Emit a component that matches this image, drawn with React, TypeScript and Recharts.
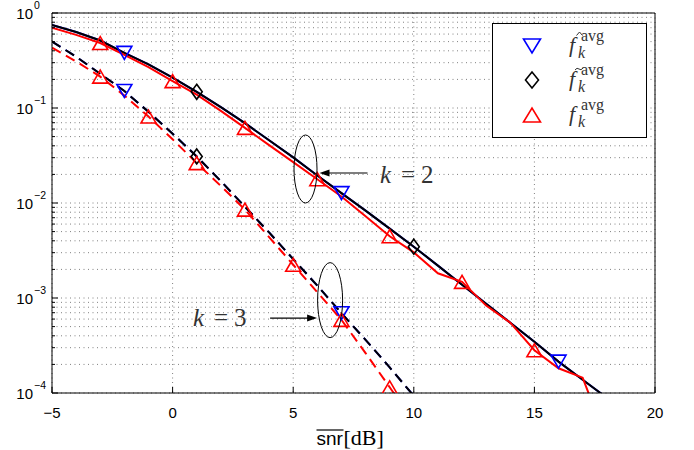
import React from "react";
import {
  ComposedChart,
  Line,
  XAxis,
  YAxis,
  CartesianGrid,
  ReferenceDot,
  Label,
} from "recharts";

// snr in dB, one sample per dB
const SNR_DB = [-5, -4, -3, -2, -1, 0, 1, 2, 3, 4, 5, 6, 7, 8, 9, 10, 11, 12, 13, 14, 15, 16, 17, 18];

// k = 2 (solid)
const F_HAT_K2 = [
  0.748, 0.631, 0.513, 0.38, 0.288, 0.209, 0.148, 0.102, 0.0692, 0.0457, 0.0302, 0.0195,
  0.0127, 0.00832, 0.00537, 0.00347, 0.00219, 0.00138, 0.000871, 0.00055, 0.000347, 0.000214, 0.000138, 0.0000891,
];
const F_TILDE_K2 = [
  0.748, 0.631, 0.513, 0.38, 0.288, 0.209, 0.148, 0.102, 0.0692, 0.0457, 0.0302, 0.0195,
  0.0127, 0.00832, 0.00537, 0.00347, 0.00219, 0.00138, 0.000871, 0.00055, 0.000347, 0.000214, 0.000138, 0.0000891,
];
const F_K2 = [
  0.7, 0.589, 0.483, 0.363, 0.269, 0.192, 0.138, 0.0933, 0.0617, 0.0407, 0.0269, 0.0178,
  0.0117, 0.00724, 0.00447, 0.00302, 0.00182, 0.00148, 0.000832, 0.00055, 0.000282, 0.000182, 0.000145, 0.0000316,
];

// k = 3 (dashed)
const F_HAT_K3 = [
  0.501, 0.347, 0.229, 0.151, 0.0912, 0.0537, 0.0309, 0.017, 0.00912, 0.0049, 0.00257, 0.00135,
  0.000692, 0.000363, 0.000186, 0.0000933,
];
const F_TILDE_K3 = [
  0.501, 0.347, 0.229, 0.151, 0.0912, 0.0537, 0.0309, 0.017, 0.00912, 0.0049, 0.00257, 0.00135,
  0.000692, 0.000363, 0.000186, 0.0000933,
];
const F_K3 = [
  0.432, 0.309, 0.214, 0.135, 0.0813, 0.0468, 0.0263, 0.0151, 0.00851, 0.00437, 0.00224, 0.00115,
  0.000589, 0.000263, 0.000115, 0.0000501,
];

// where the markers sit
const HAT_MARKS_K2 = [-2, 7, 16];
const TILDE_MARKS_K2 = [1, 10];
const F_MARKS_K2 = [-3, 0, 3, 6, 9, 12, 15];
const HAT_MARKS_K3 = [-2, 7];
const TILDE_MARKS_K3 = [1];
const F_MARKS_K3 = [-3, -1, 1, 3, 5, 7, 9];

const X_TICKS = [-5, 0, 5, 10, 15, 20];
const Y_TICKS = [
  1e-4, 2e-4, 3e-4, 4e-4, 5e-4, 6e-4, 7e-4, 8e-4, 9e-4,
  1e-3, 2e-3, 3e-3, 4e-3, 5e-3, 6e-3, 7e-3, 8e-3, 9e-3,
  1e-2, 2e-2, 3e-2, 4e-2, 5e-2, 6e-2, 7e-2, 8e-2, 9e-2,
  1e-1, 2e-1, 3e-1, 4e-1, 5e-1, 6e-1, 7e-1, 8e-1, 9e-1,
  1,
];

const SANS = "'Liberation Sans', Arial, sans-serif";
const SERIF = "'Liberation Serif', 'Times New Roman', serif";

const toPoints = (vals: number[]) => vals.map((y, i) => ({ x: SNR_DB[i], y }));

const triDown = (cx: number, cy: number, color: string, w = 7.5, h = 6.5) => (
  <polygon
    points={`${cx - w},${cy - h} ${cx + w},${cy - h} ${cx},${cy + h}`}
    fill="none"
    stroke={color}
    strokeWidth={1.6}
  />
);
const triUp = (cx: number, cy: number, color: string, w = 7.5, h = 6.5) => (
  <polygon
    points={`${cx - w},${cy + h} ${cx + w},${cy + h} ${cx},${cy - h}`}
    fill="none"
    stroke={color}
    strokeWidth={1.6}
  />
);
const diamond = (cx: number, cy: number, color: string, w = 5.5, h = 7.5) => (
  <polygon
    points={`${cx},${cy - h} ${cx + w},${cy} ${cx},${cy + h} ${cx - w},${cy}`}
    fill="none"
    stroke={color}
    strokeWidth={1.6}
  />
);

const markerDot = (marks: number[], draw: (cx: number, cy: number) => React.ReactElement) => (props: any) => {
  const { cx, cy, payload, index } = props;
  if (!marks.includes(payload.x) || cx == null || cy == null) return <g key={`d-${index}`} />;
  return <g key={`d-${index}`}>{draw(cx, cy)}</g>;
};

const isDecade = (v: number) => {
  const e = Math.log10(v);
  return Math.abs(e - Math.round(e)) < 1e-6;
};

const expText = (v: number) => {
  const e = Math.round(Math.log10(v));
  return e < 0 ? `\u2212${-e}` : `${e}`;
};

const LeftTick = (props: any) => {
  const { x, y, payload } = props;
  const major = isDecade(payload.value);
  return (
    <g>
      <line x1={x} x2={x + (major ? 6 : 3)} y1={y} y2={y} stroke="#000" />
      {major && (
        <>
          <text x={x - 19} y={y + 6} textAnchor="end" fontFamily={SANS} fontSize={15} fill="#000">
            10
          </text>
          <text x={x - 18} y={y - 4} fontFamily={SANS} fontSize={10.5} fill="#000">
            {expText(payload.value)}
          </text>
        </>
      )}
    </g>
  );
};

const RightTick = (props: any) => {
  const { x, y, payload } = props;
  const major = isDecade(payload.value);
  return <line x1={x} x2={x - (major ? 6 : 3)} y1={y} y2={y} stroke="#000" />;
};

const BottomTick = (props: any) => {
  const { x, y, payload } = props;
  const v = payload.value;
  return (
    <g>
      <line x1={x} x2={x} y1={y} y2={y - 6} stroke="#000" />
      <text x={x} y={y + 25} textAnchor="middle" fontFamily={SANS} fontSize={15} fill="#000">
        {v < 0 ? `\u2212${-v}` : `${v}`}
      </text>
    </g>
  );
};

const TopTick = (props: any) => {
  const { x, y } = props;
  return <line x1={x} x2={x} y1={y} y2={y + 6} stroke="#000" />;
};

const XLabel = (props: any) => {
  const { viewBox } = props;
  const cx = viewBox.x + viewBox.width / 2;
  const base = viewBox.y + 52;
  const left = cx - 37;
  return (
    <g>
      <line x1={left} x2={left + 27} y1={base - 15} y2={base - 15} stroke="#000" strokeWidth={1.2} />
      <text x={left} y={base} fontFamily={SANS} fontSize={19} fill="#000">
        snr
      </text>
      <text x={left + 27} y={base} fontFamily={SERIF} fontSize={22} fill="#000">
        [dB]
      </text>
    </g>
  );
};

const kText = (x: number, y: number, n: string) => (
  <g fontFamily={SERIF} fontSize={25} fill="#333">
    <text x={x} y={y} fontStyle="italic">k</text>
    <text x={x + 21} y={y}>=</text>
    <text x={x + 41} y={y}>{n}</text>
  </g>
);

const AnnotK2 = (props: any) => {
  const { cx, cy } = props;
  const ay = cy + 4;
  return (
    <g>
      <ellipse cx={cx} cy={cy} rx={11.5} ry={34} fill="none" stroke="#000" strokeWidth={1} />
      <line x1={cx + 62} x2={cx + 20} y1={ay} y2={ay} stroke="#000" strokeWidth={1.2} />
      <polygon points={`${cx + 14},${ay} ${cx + 24},${ay - 3.5} ${cx + 24},${ay + 3.5}`} fill="#000" />
      {kText(cx + 74.5, cy + 14, "2")}
    </g>
  );
};

const AnnotK3 = (props: any) => {
  const { cx, cy } = props;
  const ay = cy + 18;
  return (
    <g>
      <ellipse cx={cx} cy={cy} rx={12.5} ry={37.5} fill="none" stroke="#000" strokeWidth={1} />
      <line x1={cx - 60} x2={cx - 19} y1={ay} y2={ay} stroke="#000" strokeWidth={1.2} />
      <polygon points={`${cx - 13},${ay} ${cx - 23},${ay - 3.5} ${cx - 23},${ay + 3.5}`} fill="#000" />
      {kText(cx - 137, cy + 26, "3")}
    </g>
  );
};

const legendLabel = (x: number, rowY: number, accent: "hat" | "tilde" | "none") => (
  <g fill="#333">
    <text x={x} y={rowY + 6} fontFamily={SERIF} fontStyle="italic" fontSize={22}>
      f
    </text>
    {accent === "hat" && (
      <polyline
        points={`${x + 7.5},${rowY - 10.5} ${x + 10.5},${rowY - 14} ${x + 13.5},${rowY - 10.5}`}
        fill="none"
        stroke="#333"
        strokeWidth={1}
      />
    )}
    {accent === "tilde" && (
      <path
        d={`M${x + 6},${rowY - 10} q2,-3 4,-1 t4,-1`}
        fill="none"
        stroke="#333"
        strokeWidth={1}
      />
    )}
    <text x={x + 12} y={rowY - 5} fontFamily={SERIF} fontSize={16}>
      avg
    </text>
    <text x={x + 9} y={rowY + 12} fontFamily={SERIF} fontStyle="italic" fontSize={16}>
      k
    </text>
  </g>
);

const LegendBox = () => (
  <svg
    width={694}
    height={450}
    style={{ position: "absolute", left: 0, top: 0, pointerEvents: "none" }}
  >
    <rect x={492.5} y={23.5} width={154} height={114} fill="#fff" stroke="#000" strokeWidth={1} />
    {triDown(532, 46, "#0000ff", 8.5, 7)}
    {legendLabel(569, 46, "hat")}
    {diamond(532, 80, "#000", 6.5, 8)}
    {legendLabel(569, 80, "tilde")}
    {triUp(532, 115, "#ff0000", 8.5, 7)}
    {legendLabel(569, 115, "none")}
  </svg>
);

export default function App() {
  return (
    <div style={{ position: "absolute", left: 0, top: 0, width: 694, height: 450, background: "#fff" }}>
      <ComposedChart width={694} height={450} margin={{ top: 0, right: 0, bottom: 0, left: 0 }}>
        <CartesianGrid stroke="#808080" strokeDasharray="1 3.5" />
        <XAxis
          type="number"
          dataKey="x"
          domain={[-5, 20]}
          ticks={X_TICKS}
          interval={0}
          height={57}
          tickSize={0}
          tickMargin={0}
          tick={BottomTick}
          axisLine={{ stroke: "#000" }}
          allowDataOverflow
        >
          <Label content={XLabel} />
        </XAxis>
        <XAxis
          xAxisId="top"
          orientation="top"
          type="number"
          domain={[-5, 20]}
          ticks={X_TICKS}
          interval={0}
          height={13}
          tickSize={0}
          tickMargin={0}
          tick={TopTick}
          axisLine={{ stroke: "#000" }}
        />
        <YAxis
          type="number"
          scale="log"
          domain={[1e-4, 1]}
          ticks={Y_TICKS}
          interval={0}
          width={52}
          tickSize={0}
          tickMargin={0}
          tick={LeftTick}
          axisLine={{ stroke: "#000" }}
          allowDataOverflow
        />
        <YAxis
          yAxisId="right"
          orientation="right"
          type="number"
          scale="log"
          domain={[1e-4, 1]}
          ticks={Y_TICKS}
          interval={0}
          width={39}
          tickSize={0}
          tickMargin={0}
          tick={RightTick}
          axisLine={{ stroke: "#000" }}
        />

        {/* k = 2 */}
        <Line
          data={toPoints(F_HAT_K2)}
          dataKey="y"
          stroke="#0000ff"
          strokeWidth={2}
          dot={markerDot(HAT_MARKS_K2, (cx, cy) => triDown(cx, cy, "#0000ff"))}
          isAnimationActive={false}
        />
        <Line
          data={toPoints(F_TILDE_K2)}
          dataKey="y"
          stroke="#000"
          strokeWidth={2}
          dot={markerDot(TILDE_MARKS_K2, (cx, cy) => diamond(cx, cy, "#000"))}
          isAnimationActive={false}
        />
        <Line
          data={toPoints(F_K2)}
          dataKey="y"
          stroke="#ff0000"
          strokeWidth={2}
          dot={markerDot(F_MARKS_K2, (cx, cy) => triUp(cx, cy, "#ff0000"))}
          isAnimationActive={false}
        />

        {/* k = 3 */}
        <Line
          data={toPoints(F_HAT_K3)}
          dataKey="y"
          stroke="#0000ff"
          strokeWidth={2}
          strokeDasharray="10 6"
          dot={markerDot(HAT_MARKS_K3, (cx, cy) => triDown(cx, cy, "#0000ff"))}
          isAnimationActive={false}
        />
        <Line
          data={toPoints(F_TILDE_K3)}
          dataKey="y"
          stroke="#000"
          strokeWidth={2}
          strokeDasharray="10 6"
          dot={markerDot(TILDE_MARKS_K3, (cx, cy) => diamond(cx, cy, "#000"))}
          isAnimationActive={false}
        />
        <Line
          data={toPoints(F_K3)}
          dataKey="y"
          stroke="#ff0000"
          strokeWidth={2}
          strokeDasharray="10 6"
          dot={markerDot(F_MARKS_K3, (cx, cy) => triUp(cx, cy, "#ff0000"))}
          isAnimationActive={false}
        />

        <ReferenceDot x={5.51} y={0.0228} r={0} shape={AnnotK2} />
        <ReferenceDot x={6.53} y={0.00095} r={0} shape={AnnotK3} />
      </ComposedChart>
      <LegendBox />
    </div>
  );
}
